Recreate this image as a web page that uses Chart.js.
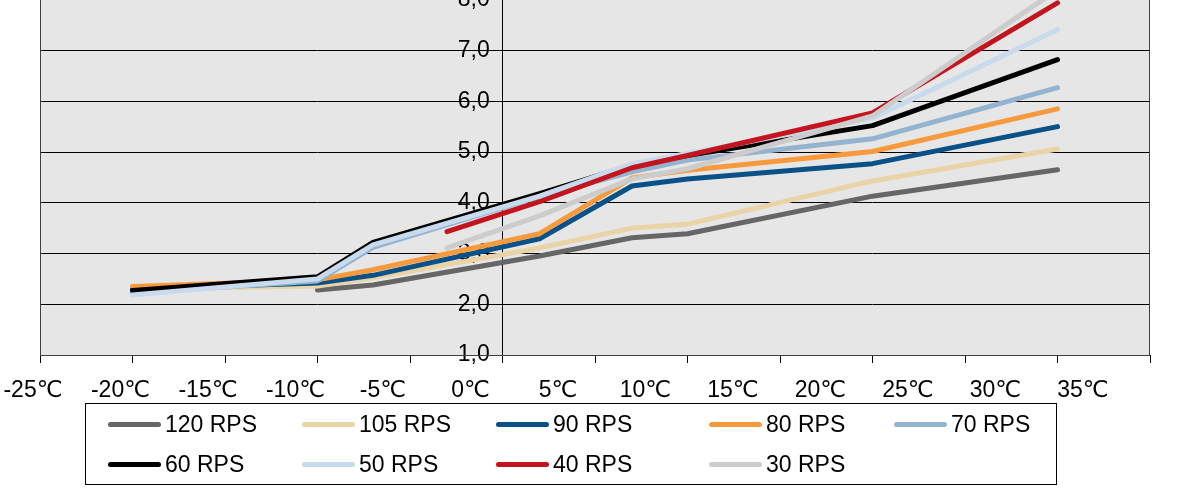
<!DOCTYPE html>
<html>
<head>
<meta charset="utf-8">
<script src="https://cdn.jsdelivr.net/npm/chart.js@4.4.1/dist/chart.umd.min.js"></script>
<style>
  html, body { margin: 0; padding: 0; background: #fff; }
  #frame { position: relative; width: 1177px; height: 492px; overflow: hidden; }
  #plot { position: absolute; left: 0; top: -85px; width: 1177px; height: 578px; }
  #legend {
    position: absolute; left: 85px; top: 403px; width: 970px; height: 80px;
    border: 1px solid #000; box-sizing: content-box;
    font-family: "Liberation Sans", Arial, sans-serif; font-size: 23px; color: #000;
  }
  .item { position: absolute; height: 28px; display: flex; align-items: center; white-space: nowrap; }
  .swatch { width: 53px; height: 5px; border-radius: 3px; margin-right: 4px; }
</style>
</head>
<body>
<div id="frame">
  <div id="plot"><canvas id="cop-chart"></canvas></div>
  <div id="legend"></div>
</div>
<script>
'use strict';

// Außentemperatur (°C) der Messpunkte
const temps = [-20, -10, -7, -3, 2, 7, 10, 20, 30];
const xLabelValues = [-25, -20, -15, -10, -5, 0, 5, 10, 15, 20, 25, 30, 35];
const xLabels = ['-25℃', '-20℃', '-15℃', '-10℃', '-5℃', '0℃', '5℃', '10℃', '15℃', '20℃', '25℃', '30℃', '35℃'];

// COP je Verdichterdrehzahl
const rps120 = [null, 2.28, 2.38, null, 2.95, 3.31, 3.39, 4.13, 4.65];
const rps105 = [2.30, 2.36, 2.52, null, 3.11, 3.50, 3.58, 4.43, 5.06];
const rps90  = [2.30, 2.42, 2.57, null, 3.29, 4.33, 4.47, 4.77, 5.50];
const rps80  = [2.35, 2.48, 2.68, null, 3.39, 4.49, 4.64, 5.01, 5.85];
const rps70  = [2.22, 2.46, 3.12, null, 4.12, 4.61, 4.84, 5.26, 6.27];
const rps60  = [2.27, 2.54, 3.22, null, 4.18, 4.74, 4.93, 5.52, 6.82];
const rps50  = [2.18, 2.50, 3.17, null, 4.13, 4.77, 4.97, 5.67, 7.41];
const rps40  = [null, null, null, 3.43, 4.02, 4.69, 4.93, 5.77, 7.94];
const rps30  = [null, null, null, 3.11, 3.74, 4.47, 4.67, 5.71, 8.20];

const seriesNames  = ['120 RPS', '105 RPS', '90 RPS', '80 RPS', '70 RPS', '60 RPS', '50 RPS', '40 RPS', '30 RPS'];
const seriesValues = [rps120, rps105, rps90, rps80, rps70, rps60, rps50, rps40, rps30];
const seriesColors = ['#666666', '#e8d4a6', '#0a5187', '#f79a3e', '#93b3cf', '#000000', '#c8daec', '#c3151f', '#cccccc'];

// Legend-Spalten wie im Original (Excel-Raster)
const legendCols = [22, 216, 410, 623, 808];
const legendRows = [6, 46];

const fontFamily = '"Liberation Sans", Arial, "DejaVu Sans", sans-serif';
Chart.defaults.font.family = fontFamily;
Chart.defaults.font.size = 23;
Chart.defaults.color = '#000';

const plotBackground = {
    id: 'plotBackground',
    beforeDraw(chart) {
        const { ctx, chartArea: a } = chart;
        ctx.save();
        ctx.fillStyle = '#e6e6e6';
        ctx.fillRect(a.left, a.top, a.right - a.left, a.bottom - a.top);
        ctx.restore();
    },
    afterDraw(chart) {
        const { ctx, chartArea: a } = chart;
        ctx.save();
        ctx.strokeStyle = '#404040';
        ctx.lineWidth = 1;
        ctx.strokeRect(Math.round(a.left) + 0.5, Math.round(a.top) + 0.5, Math.round(a.right - a.left) - 1, Math.round(a.bottom - a.top));
        ctx.restore();
    }
};

const datasets = seriesNames.map((name, i) => ({
    label: name,
    data: temps.map((t, j) => ({ x: t, y: seriesValues[i][j] })),
    borderColor: seriesColors[i],
    backgroundColor: seriesColors[i],
    borderWidth: 5,
    borderCapStyle: 'round',
    borderJoinStyle: 'round',
    pointRadius: 0,
    spanGaps: true,
    tension: 0,
    order: seriesNames.length - i
}));

new Chart(document.getElementById('cop-chart').getContext('2d'), {
    type: 'line',
    data: { datasets },
    plugins: [plotBackground],
    options: {
        responsive: true, maintainAspectRatio: false, animation: false,
        layout: { padding: { left: 40, right: 27, top: 34, bottom: 90 } },
        plugins: { legend: { display: false }, tooltip: { enabled: false } },
        scales: {
            x: {
                type: 'linear', min: -25, max: 35, position: 'bottom', weight: 0,
                ticks: { stepSize: 5, display: false },
                grid: { drawOnChartArea: false, drawTicks: true, tickLength: 8, color: '#000' },
                border: { color: '#000' },
                afterFit(scale) { scale.height = 8; }
            },
            xl: {
                type: 'linear', min: -24.6, max: 38.83, position: 'bottom', weight: 2,
                afterBuildTicks(scale) { scale.ticks = xLabelValues.map(v => ({ value: v })); },
                ticks: { autoSkip: false, maxRotation: 0, padding: 14, callback: (v, i) => xLabels[i] },
                grid: { display: false, drawTicks: false },
                border: { display: false },
                afterFit(scale) { scale.height = 40; scale.paddingLeft = 0; scale.paddingRight = 0; }
            },
            y: {
                type: 'linear', min: 1, max: 9, position: { x: 0 },
                // zwei Leerzeichen rücken die Beschriftung von der Achse ab
                ticks: { stepSize: 1, callback: (v) => v.toFixed(1).replace('.', ',') + '  ' },
                grid: { color: '#000', drawTicks: false },
                border: { color: '#000' }
            }
        }
    }
});

const legendNode = document.getElementById('legend');
legendNode.innerHTML = seriesNames.map((name, i) => {
    const col = legendCols[i % 5];
    const row = legendRows[Math.floor(i / 5)];
    return `<div class="item" style="left:${col}px;top:${row}px">` +
           `<span class="swatch" style="background:${seriesColors[i]}"></span>${name}</div>`;
}).join('');
</script>
</body>
</html>
